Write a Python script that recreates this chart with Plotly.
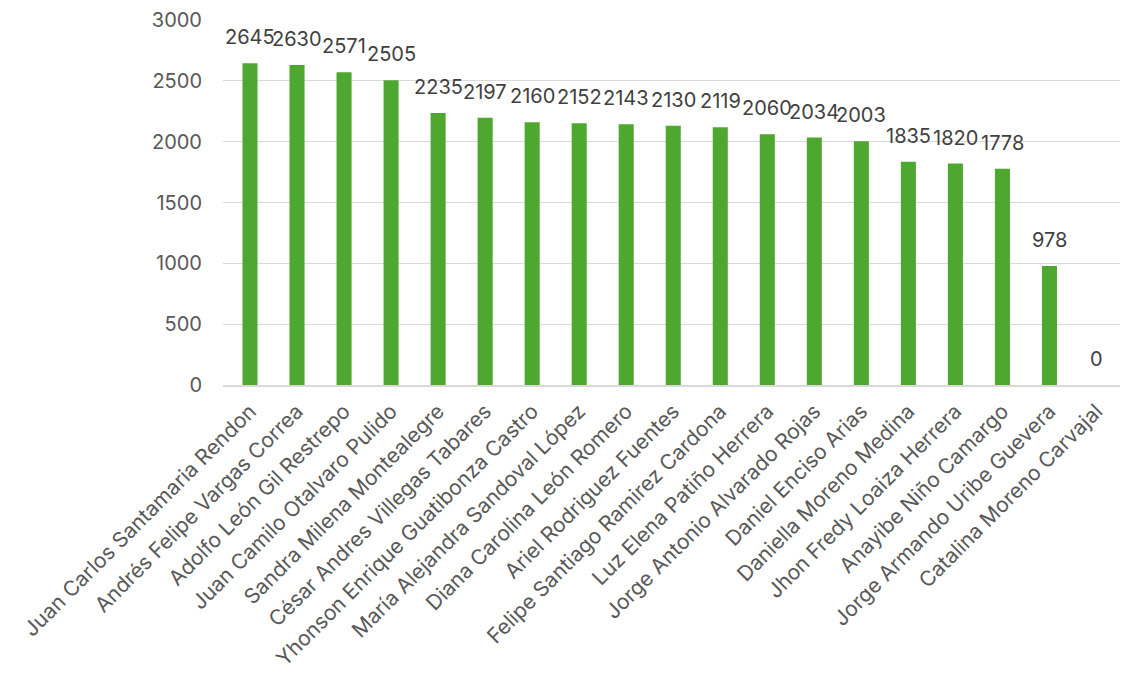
import plotly.graph_objects as go

names = [
    "Juan Carlos Santamaria Rendon",
    "Andrés Felipe Vargas Correa",
    "Adolfo León Gil Restrepo",
    "Juan Camilo Otalvaro Pulido",
    "Sandra Milena Montealegre",
    "César Andres Villegas Tabares",
    "Yhonson Enrique Guatibonza Castro",
    "María Alejandra Sandoval López",
    "Diana Carolina León Romero",
    "Ariel Rodriguez Fuentes",
    "Felipe Santiago Ramirez Cardona",
    "Luz Elena Patiño Herrera",
    "Jorge Antonio Alvarado Rojas",
    "Daniel Enciso Arias",
    "Daniella Moreno Medina",
    "Jhon Fredy Loaiza Herrera",
    "Anayibe Niño Camargo",
    "Jorge Armando Uribe Guevera",
    "Catalina Moreno Carvajal",
]
values = [2645, 2630, 2571, 2505, 2235, 2197, 2160, 2152, 2143, 2130,
          2119, 2060, 2034, 2003, 1835, 1820, 1778, 978, 0]
y_ticks = [0, 500, 1000, 1500, 2000, 2500, 3000]

FONT = "Inter"
fig = go.Figure()
fig.add_trace(go.Bar(
    x=names, y=values,
    marker=dict(color="#4EA72E", line=dict(width=0)),
    hoverinfo="x+y",
))
for n, v in zip(names, values):
    fig.add_annotation(x=n, y=v, text=str(v), showarrow=False,
                       yshift=26, font=dict(family=FONT, size=20, color="#404040"))

fig.update_layout(
    width=1135, height=679,
    margin=dict(l=215, r=23, t=12, b=302),
    paper_bgcolor="white", plot_bgcolor="white",
    bargap=0.68,
    showlegend=False,
    font=dict(family=FONT, color="#595959"),
)
fig.update_xaxes(
    tickangle=-45, tickfont=dict(family=FONT, size=21, color="#595959"),
    showgrid=False, showline=True, linecolor="#d9d9d9", linewidth=1.5,
    ticks="", automargin=False, ticklabelstandoff=4,
)
fig.update_yaxes(
    range=[0, 3000], tickvals=y_ticks,
    tickfont=dict(family=FONT, size=20, color="#595959"),
    showgrid=True, gridcolor="#d9d9d9", gridwidth=1.3,
    zeroline=False, showline=False, ticks="", ticklabelstandoff=20,
    automargin=False,
)
fig.write_html("out.html")
